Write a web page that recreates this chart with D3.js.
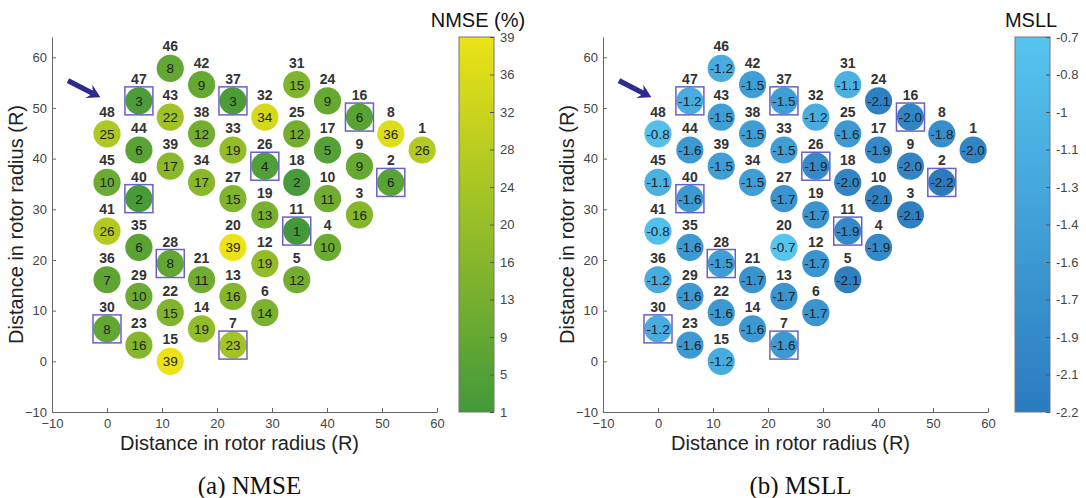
<!DOCTYPE html>
<html lang="en">
<head>
<meta charset="utf-8">
<title>NMSE / MSLL turbine maps</title>
<script src="https://d3js.org/d3.v7.min.js"></script>
<style>
  body { margin: 0; background: #fff; }
  text { font-family: "Liberation Sans", Arial, sans-serif; }
</style>
</head>
<body>
<script>
"use strict";

// turbine ids and positions (rotor radii)
const turbineIds = d3.range(1, 49);
const turbineX = [57.3, 51.6, 45.9, 40.1, 34.5, 28.7, 22.9, 51.6, 45.9, 40.1,
                  34.5, 28.7, 22.9, 17.2, 11.5, 45.9, 40.1, 34.5, 28.7, 22.9,
                  17.2, 11.5, 5.8, 40.1, 34.5, 28.7, 22.9, 11.5, 5.8, 0,
                  34.5, 28.7, 22.9, 17.2, 5.8, 0, 22.9, 17.2, 11.5, 5.8,
                  0, 17.2, 11.5, 5.8, 0, 11.5, 5.8, 0];
const turbineY = [41.7, 35.3, 28.9, 22.5, 16.1, 9.6, 3.2, 44.9, 38.5, 32.1,
                  25.7, 19.3, 12.8, 6.4, 0, 48.2, 41.7, 35.3, 28.9, 22.5,
                  16.1, 9.6, 3.2, 51.4, 44.9, 38.5, 32.1, 19.3, 12.8, 6.4,
                  54.6, 48.2, 41.7, 35.3, 22.5, 16.1, 51.4, 44.9, 38.5, 32.1,
                  25.7, 54.6, 48.2, 41.7, 35.3, 57.8, 51.4, 44.9];

const nmseValues = [26, 6, 16, 10, 12, 14, 23, 36, 9, 11,
                    1, 19, 16, 19, 39, 6, 5, 2, 13, 39,
                    11, 15, 16, 9, 12, 4, 15, 8, 10, 8,
                    15, 34, 19, 17, 6, 7, 3, 12, 17, 2,
                    26, 9, 22, 6, 10, 8, 3, 25];
const msllValues = [-2.0, -2.2, -2.1, -1.9, -2.1, -1.7, -1.6, -1.8, -2.0, -2.1,
                    -1.9, -1.7, -1.7, -1.6, -1.2, -2.0, -1.9, -2.0, -1.7, -0.7,
                    -1.7, -1.6, -1.6, -2.1, -1.6, -1.9, -1.7, -1.5, -1.6, -1.2,
                    -1.1, -1.2, -1.5, -1.5, -1.6, -1.2, -1.5, -1.5, -1.5, -1.6,
                    -0.8, -1.5, -1.5, -1.6, -1.1, -1.2, -1.2, -0.8];

// turbines marked with a square
const boxedIds = [2, 7, 11, 16, 26, 28, 30, 37, 40, 47];

const xTicks = [-10, 0, 10, 20, 30, 40, 50, 60];
const yTicks = [-10, 0, 10, 20, 30, 40, 50, 60];
const nmseTickLabels = ["1", "5", "9", "13", "16", "20", "24", "28", "32", "36", "39"];
const msllTickLabels = ["-2.2", "-2.1", "-1.9", "-1.7", "-1.6", "-1.4", "-1.3", "-1.1", "-1", "-0.8", "-0.7"];

// arrow pointing at turbine 48 (data coords)
const arrowFrom = [-7.1, 55.4];
const arrowTo = [-1.2, 52.1];

const W = 1086, H = 498;
const svg = d3.select("body").append("svg")
    .attr("width", W).attr("height", H);

const turbines = turbineIds.map((id, i) => ({
  id: id, x: turbineX[i], y: turbineY[i],
  nmse: nmseValues[i], msll: msllValues[i],
  boxed: boxedIds.includes(id)
}));

const panels = [
  {
    x0: 52, x1: 437, barX: 459, titleX: 478,
    title: "NMSE (%)", caption: "(a) NMSE",
    value: d => d.nmse, fmt: v => String(v),
    color: d3.scaleLinear().domain([1, 39]).range(["#43993a", "#ebe316"]),
    domain: [1, 39], tickLabels: nmseTickLabels
  },
  {
    x0: 603, x1: 988, barX: 1015, titleX: 1031,
    title: "MSLL", caption: "(b) MSLL",
    value: d => d.msll, fmt: v => v.toFixed(1),
    color: d3.scaleLinear().domain([-2.2, -0.7]).range(["#2b7bbf", "#56c5ee"]),
    domain: [-2.2, -0.7], tickLabels: msllTickLabels
  }
];

const plotTop = 37, plotBottom = 412, barW = 35;

panels.forEach((p, pi) => {
  const x = d3.scaleLinear().domain([-10, 60]).range([p.x0, p.x1]);
  const y = d3.scaleLinear().domain([-10, 64]).range([plotBottom, plotTop]);
  const g = svg.append("g");

  // axes
  const xAxis = g.append("g")
      .attr("transform", `translate(0,${plotBottom})`)
      .call(d3.axisBottom(x).tickValues(xTicks).tickSizeInner(-4).tickSizeOuter(0).tickPadding(7));
  const yAxis = g.append("g")
      .attr("transform", `translate(${p.x0},0)`)
      .call(d3.axisLeft(y).tickValues(yTicks).tickSizeInner(-4).tickSizeOuter(0).tickPadding(5));
  [xAxis, yAxis].forEach(a => {
    a.select(".domain").attr("stroke", "#666");
    a.selectAll(".tick line").attr("stroke", "#666");
    a.selectAll(".tick text").attr("fill", "#444").style("font-size", "13px");
  });

  g.append("text")
      .attr("x", (p.x0 + p.x1) / 2 - 5).attr("y", 450)
      .attr("text-anchor", "middle")
      .style("font-size", "20px").attr("fill", "#222")
      .text("Distance in rotor radius (R)");
  g.append("text")
      .attr("transform", `translate(${p.x0 - 29},${(plotTop + plotBottom) / 2}) rotate(-90)`)
      .attr("text-anchor", "middle")
      .style("font-size", "20px").attr("fill", "#222")
      .text("Distance in rotor radius (R)");

  // arrow
  const sx = x(arrowFrom[0]), sy = y(arrowFrom[1]);
  const ex = x(arrowTo[0]), ey = y(arrowTo[1]);
  const len = Math.hypot(ex - sx, ey - sy);
  const ux = (ex - sx) / len, uy = (ey - sy) / len;
  const nx = -uy, ny = ux;
  const hw = 2.6, hl = 13, hh = 7.5;
  const hx = ex - ux * hl, hy = ey - uy * hl;
  const bx = hx + ux * 3, by = hy + uy * 3;
  const pts = [
    [sx + nx * hw, sy + ny * hw], [bx + nx * hw, by + ny * hw],
    [hx + nx * hh, hy + ny * hh], [ex, ey],
    [hx - nx * hh, hy - ny * hh], [bx - nx * hw, by - ny * hw],
    [sx - nx * hw, sy - ny * hw]
  ];
  g.append("path")
      .attr("d", "M" + pts.map(q => q.join(",")).join("L") + "Z")
      .attr("fill", "#2f2a90");

  // turbines
  const t = g.selectAll("g.turbine").data(turbines).join("g")
      .attr("class", "turbine")
      .attr("transform", d => `translate(${x(d.x)},${y(d.y)})`);
  t.append("circle")
      .attr("r", 13.6)
      .attr("fill", d => p.color(p.value(d)));
  t.filter(d => d.boxed).append("rect")
      .attr("x", -14).attr("y", -14).attr("width", 28).attr("height", 28)
      .attr("fill", "none").attr("stroke", "#6a60c8").attr("stroke-width", 1.5);
  t.append("text")
      .attr("text-anchor", "middle").attr("dy", "0.36em")
      .style("font-size", "13.5px").attr("fill", "#1e1e1e")
      .text(d => p.fmt(p.value(d)));
  t.append("text")
      .attr("text-anchor", "middle").attr("y", -22).attr("dy", "0.36em")
      .style("font-size", "14px").style("font-weight", "bold").attr("fill", "#333")
      .text(d => d.id);

  // colour bar
  const gradId = "grad" + pi;
  const grad = svg.append("defs").append("linearGradient")
      .attr("id", gradId).attr("x1", 0).attr("y1", 1).attr("x2", 0).attr("y2", 0);
  grad.selectAll("stop").data([0, 0.5, 1]).join("stop")
      .attr("offset", d => d)
      .attr("stop-color", d => p.color(p.domain[0] + d * (p.domain[1] - p.domain[0])));
  g.append("rect")
      .attr("x", p.barX).attr("y", plotTop).attr("width", barW).attr("height", plotBottom - plotTop)
      .attr("fill", `url(#${gradId})`).attr("stroke", "#777").attr("stroke-width", 1);

  const cb = d3.scalePoint().domain(p.tickLabels).range([plotBottom, plotTop]);
  const cAxis = g.append("g")
      .attr("transform", `translate(${p.barX + barW},0)`)
      .call(d3.axisRight(cb).tickSizeInner(-4).tickSizeOuter(0).tickPadding(6));
  cAxis.select(".domain").remove();
  cAxis.selectAll(".tick line").attr("stroke", "#555");
  cAxis.selectAll(".tick text").attr("fill", "#444").style("font-size", "13px");

  g.append("text")
      .attr("x", p.titleX).attr("y", 27)
      .attr("text-anchor", "middle")
      .style("font-size", "20px").attr("fill", "#111")
      .text(p.title);

  // caption
  g.append("text")
      .attr("x", (p.x0 + p.x1) / 2 + 5).attr("y", 494)
      .attr("text-anchor", "middle")
      .style("font-family", "'Liberation Serif', 'Times New Roman', serif")
      .style("font-size", "25px").attr("fill", "#111")
      .text(p.caption);
});
</script>
</body>
</html>
